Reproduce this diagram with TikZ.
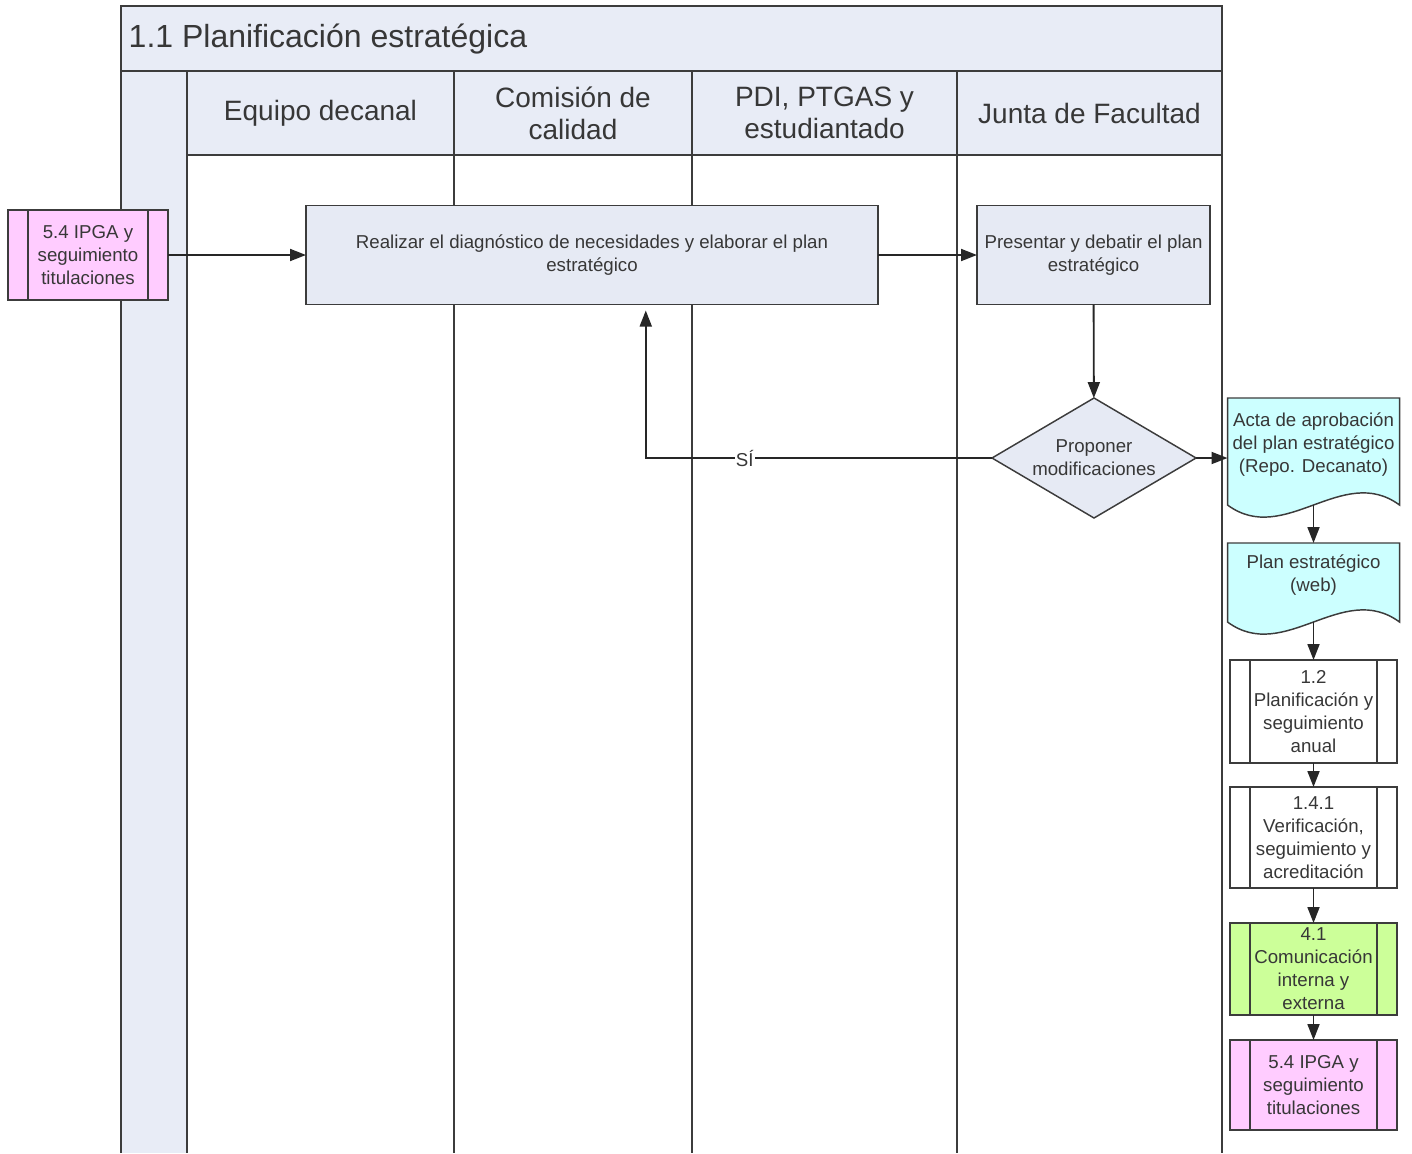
\documentclass[tikz,border=0pt]{standalone}
\usepackage{fontspec}
\setmainfont{Liberation Sans}
\usepackage{tikz}
\usetikzlibrary{arrows.meta,shapes,positioning,calc,backgrounds}

\definecolor{poolfill}{RGB}{232,236,246}
\definecolor{poolline}{RGB}{60,60,60}
\definecolor{boxfill}{RGB}{230,234,244}
\definecolor{docfill}{RGB}{204,255,255}
\definecolor{comfill}{RGB}{204,255,153}
\definecolor{ipgafill}{RGB}{255,204,255}
\definecolor{txt}{RGB}{55,55,55}

\newcommand{\smallfont}{\fontsize{14}{17.25}\selectfont}
\newcommand{\lanefont}{\fontsize{21}{24}\selectfont}

% document shape with wavy bottom, drawn behind the text node
\newcommand{\docshape}[1]{%
  \begin{scope}[on background layer]
    \draw[boxline,fill=docfill] (#1.north west) -- (#1.north east) -- ($(#1.south east)+(0,14)$)
      .. controls ($(#1.south east)+(-57,-28)$) and ($(#1.south west)+(57,56)$) .. ($(#1.south west)+(0,14)$) -- cycle;
  \end{scope}
  \coordinate (#1-b) at ($(#1.south)+(0,14)$);}

\begin{document}
\begin{tikzpicture}[x=0.75pt,y=-0.75pt,>={Triangle[length=12pt,width=9pt]},
  pool/.style={draw=poolline,line width=1.5pt},
  boxline/.style={draw=poolline,line width=1.1pt},
  task/.style={boxline,fill=boxfill,text=txt,font=\smallfont,align=center,inner sep=2pt,outer sep=0pt},
  decision/.style={task,diamond,aspect=1.7,inner sep=0pt,minimum width=153pt,minimum height=90pt},
  doc/.style={text=txt,font=\smallfont,align=center,minimum width=129pt,inner sep=0pt,outer sep=0pt},
  subproc/.style={boxline,text=txt,font=\smallfont,align=center,minimum width=125.25pt,inner sep=0pt,outer sep=0pt,
    path picture={\draw[boxline] ([xshift=15pt]path picture bounding box.north west) -- ([xshift=15pt]path picture bounding box.south west)
      ([xshift=-15pt]path picture bounding box.north east) -- ([xshift=-15pt]path picture bounding box.south east);}},
  lanetitle/.style={text=txt,font=\lanefont,align=center},
  conn/.style={->,line width=1.4pt,draw=black!85}]
\useasboundingbox (0,0) rectangle (1412,1153);

% pool and lanes
\fill[poolfill] (121,6) rectangle (1222,71);
\fill[poolfill] (187,71) rectangle (1222,155);
\fill[poolfill] (121,71) rectangle (187,1153);
\draw[pool] (121,1153) -- (121,6) -- (1222,6) -- (1222,1153);
\draw[pool] (121,71) -- (1222,71) (187,155) -- (1222,155);
\foreach \x in {187,454,692,957}
  \draw[pool] (\x,71) -- (\x,1153);

\node[anchor=west,text=txt,font=\fontsize{24}{28}\selectfont] (title) at (124,39) {1.1 Planificación estratégica};
\node[lanetitle] (equipo) at (320.5,113) {Equipo decanal};
\node[lanetitle] (comision) at (573,113) {Comisión de\\calidad};
\node[lanetitle] (pdi) at (824.5,113) {PDI, PTGAS y\\estudiantado};
\node[lanetitle] (junta) at (1089.5,113) {Junta de Facultad};

% steps
\node[subproc,fill=ipgafill,minimum width=120pt,minimum height=67.5pt] (ipga-in) at (88,255) {5.4 IPGA y\\seguimiento\\titulaciones};
\node[task,minimum width=429pt,minimum height=74.25pt] (diag) at (592,255) {Realizar el diagnóstico de necesidades y elaborar el plan\\estratégico};
\node[task,minimum width=174.75pt,minimum height=74.25pt] (debate) at (1093.5,255) {Presentar y debatir el plan\\estratégico};
\node[decision] (modif) at (1094,458) {Proponer\\modificaciones};

% outputs
\node[doc,minimum height=69.75pt] (acta) at (1313.5,444.5) {Acta de aprobación\\del plan estratégico\\(Repo. Decanato)};
\node[doc,minimum height=48.75pt,below=39pt of acta] (plan) {Plan estratégico\\(web)};
\docshape{acta}
\docshape{plan}
\node[subproc,fill=white,minimum height=77.25pt,below=39pt of plan] (anual) {1.2\\Planificación y\\seguimiento\\anual};
\node[subproc,fill=white,minimum height=75.75pt,below=18pt of anual] (verif) {1.4.1\\Verificación,\\seguimiento y\\acreditación};
\node[subproc,fill=comfill,minimum height=69pt,below=26.25pt of verif] (comun) {4.1\\Comunicación\\interna y\\externa};
\node[subproc,fill=ipgafill,minimum height=67.5pt,below=18.75pt of comun] (ipga-out) {5.4 IPGA y\\seguimiento\\titulaciones};

\draw[conn] (ipga-in) -- (diag);
\draw[conn] (diag) -- (debate);
\draw[conn] (debate) -- (modif);
\draw[conn] (modif.east) -- (modif.east -| acta.west);
\draw[conn] (acta-b) -- (plan.north);
\draw[conn] (plan-b) -- (anual.north);
\draw[conn] (anual) -- (verif);
\draw[conn] (verif) -- (comun);
\draw[conn] (comun) -- (ipga-out);
\draw[conn,shorten >=4.5pt] (modif.west) -| node[pos=0.357,fill=white,inner sep=1pt,text=txt,font=\smallfont] {SÍ} ($(diag.south west)!0.594!(diag.south east)$);
\end{tikzpicture}
\end{document}
